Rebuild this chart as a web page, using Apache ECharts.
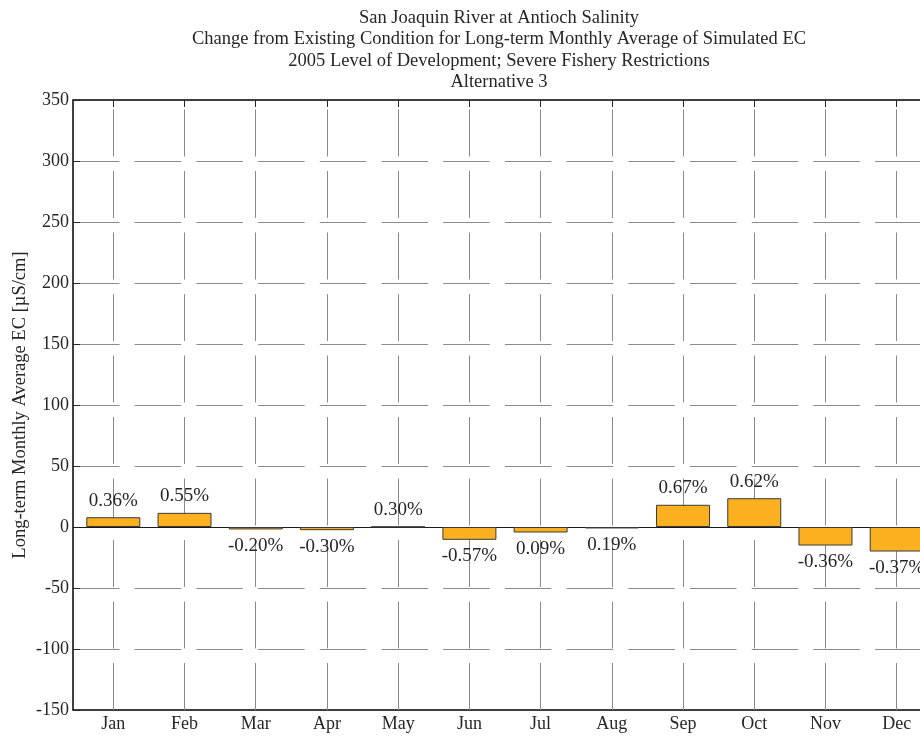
<!DOCTYPE html>
<html>
<head>
<meta charset="utf-8">
<title>San Joaquin River at Antioch Salinity</title>
<script src="https://cdn.jsdelivr.net/npm/echarts@6/dist/echarts.min.js"></script>
<style>
	html, body { margin: 0; padding: 0; background: #fff; }
	#main { width: 920px; height: 736px; }
</style>
</head>
<body>
<div id="main"></div>
<script>
var months = ['Jan', 'Feb', 'Mar', 'Apr', 'May', 'Jun', 'Jul', 'Aug', 'Sep', 'Oct', 'Nov', 'Dec'];
// change in EC, uS/cm
var ecChange = [8.0, 11.6, -2.0, -2.6, 0.2, -10.5, -4.5, -1.2, 18.2, 23.6, -15.2, -20.1];
// percent labels printed over the bars
var pctLabels = ['0.36%', '0.55%', '-0.20%', '-0.30%', '0.30%', '-0.57%', '0.09%', '0.19%', '0.67%', '0.62%', '-0.36%', '-0.37%'];
var monthPos = [1, 2, 3, 4, 5, 6, 7, 8, 9, 10, 11, 12];
var titleLines = [
	'San Joaquin River at Antioch Salinity',
	'Change from Existing Condition for Long-term Monthly Average of Simulated EC',
	'2005 Level of Development; Severe Fishery Restrictions',
	'Alternative 3'
];

var serif = 'Liberation Serif';
var ink = '#262626';
var gridGrey = '#8a8a8a';

var barData = [];
for (var i = 0; i < months.length; i++) {
	barData.push({
		value: [monthPos[i], ecChange[i]],
		label: { position: ecChange[i] >= 0 ? 'top' : 'bottom' }
	});
}

// vertical grid lines at each month + the solid zero baseline
var vLines = [];
for (var i = 0; i < monthPos.length; i++) {
	vLines.push({ xAxis: monthPos[i] });
}
vLines.push({
	yAxis: 0,
	lineStyle: { color: '#1a1a1a', type: 'solid', width: 1 }
});

var myChart = echarts.init(document.getElementById('main'));

var option = {
	animation: false,
	title: {
		text: titleLines.join('\n'),
		left: 494,
		top: 2,
		textAlign: 'center',
		textStyle: {
			fontFamily: serif,
			fontSize: 18.5,
			fontWeight: 'normal',
			lineHeight: 21.5,
			color: ink
		}
	},
	// plot box runs past the right edge of the page, so no outer bounds
	grid: {
		left: 73,
		top: 100,
		width: 864,
		height: 610,
		outerBoundsMode: 'none',
		show: true,
		borderColor: ink,
		borderWidth: 1
	},
	xAxis: [{
		type: 'value',
		min: 0.434,
		max: 12.566,
		position: 'bottom',
		axisLine: { onZero: false, lineStyle: { color: ink, width: 1.5 } },
		axisTick: { customValues: monthPos, inside: true, length: 7, lineStyle: { color: ink } },
		axisLabel: {
			customValues: monthPos,
			margin: 5,
			fontFamily: serif,
			fontSize: 18,
			color: ink,
			formatter: function(v) {
				return months[Math.round(v) - 1] || '';
			}
		},
		splitLine: { show: false }
	}, {
		type: 'value',
		min: 0.434,
		max: 12.566,
		position: 'top',
		axisLine: { onZero: false, lineStyle: { color: ink, width: 1.5 } },
		axisTick: { customValues: monthPos, inside: true, length: 7, lineStyle: { color: ink } },
		axisLabel: { show: false },
		splitLine: { show: false }
	}],
	yAxis: {
		type: 'value',
		min: -150,
		max: 350,
		interval: 50,
		name: 'Long-term Monthly Average EC [\u00B5S/cm]',
		nameLocation: 'middle',
		nameGap: 43,
		nameMoveOverlap: false,
		nameTextStyle: {
			fontFamily: serif,
			fontSize: 18.5,
			color: ink
		},
		axisLine: { show: true, lineStyle: { color: ink, width: 1.5 } },
		axisTick: { inside: true, length: 7, lineStyle: { color: ink } },
		axisLabel: {
			margin: 4,
			fontFamily: serif,
			fontSize: 18,
			color: ink
		},
		splitLine: {
			show: true,
			lineStyle: { color: gridGrey, width: 1, type: [46.5, 15.2], dashOffset: 0 }
		}
	},
	series: [{
		name: 'EC change',
		type: 'bar',
		xAxisIndex: 0,
		barWidth: 54,
		z: 3,
		data: barData,
		itemStyle: {
			color: '#fbb11f',
			borderColor: '#3a3a3a',
			borderWidth: 1
		},
		label: {
			show: true,
			distance: 7,
			fontFamily: serif,
			fontSize: 19,
			color: ink,
			formatter: function(p) {
				return pctLabels[p.dataIndex];
			}
		},
		markLine: {
			silent: true,
			z: 1,
			symbol: 'none',
			animation: false,
			label: { show: false },
			lineStyle: { color: gridGrey, width: 1, type: [47, 14.5], dashOffset: 0 },
			data: vLines
		}
	}]
};

myChart.setOption(option);
</script>
</body>
</html>
